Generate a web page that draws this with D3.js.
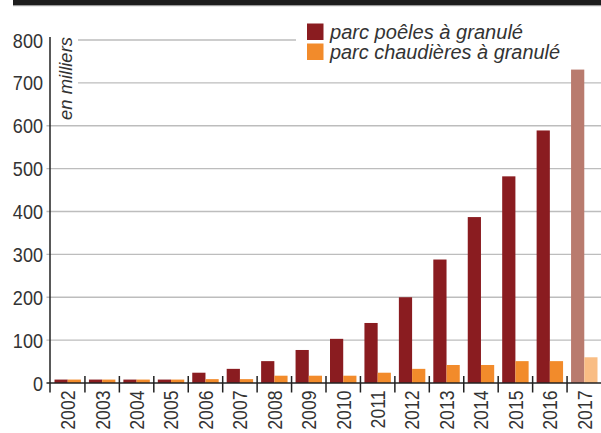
<!DOCTYPE html>
<html><head><meta charset="utf-8">
<script src="https://cdn.jsdelivr.net/npm/d3@7"></script>
<style>
html,body{margin:0;padding:0;background:#fff;}
svg{display:block;}
</style></head>
<body>
<svg id="chart" width="601" height="433"></svg>
<script>
const years = ["2002","2003","2004","2005","2006","2007","2008","2009","2010","2011","2012","2013","2014","2015","2016","2017"];
const poeles = [8, 8, 8, 8, 24, 33, 51, 77, 103, 140, 200, 288, 387, 482, 589, 731];
const chaudieres = [8, 8, 8, 8, 9, 9, 17, 17, 17, 24, 33, 42, 42, 51, 51, 60];
const yTicks = [0, 100, 200, 300, 400, 500, 600, 700, 800];
const seriesNames = ["parc poêles à granulé", "parc chaudières à granulé"];
const unitLabel = "en milliers";

const colors = {p:"#8a1c20", c:"#f28b2b", p17:"#b97b6e", c17:"#f9bd84"};
const svg = d3.select("#chart");
const x = d3.scaleBand().domain(years).range([50.5, 601.5]).padding(0);
const xi = d3.scaleBand().domain(["p","c"]).range([4, x.bandwidth()-4]).padding(0);
const y = d3.scaleLinear().domain([0, 800]).range([383, 40]);
const numFont = "'Liberation Sans Narrow','Arial Narrow','Liberation Sans',sans-serif";
const itFont = "'Liberation Sans',Arial,sans-serif";
const squeeze = 0.86;

// top dark band
svg.append("rect").attr("x",13).attr("y",0).attr("width",588).attr("height",5).attr("fill","#1d1d1d");
svg.append("rect").attr("x",13).attr("y",5).attr("width",588).attr("height",1.2).attr("fill","#9a9a9a");

// gridlines
const grid = svg.append("g");
yTicks.forEach(t => {
  if (t === 0) return;
  let x1 = 46.5, x2 = 601;
  if (t === 700) { x1 = 78; }
  if (t === 800) { x1 = 78; x2 = 296; }
  grid.append("line").attr("x1",x1).attr("x2",x2).attr("y1",y(t)).attr("y2",y(t))
    .attr("stroke","#bdbdbd").attr("stroke-width",1.4);
});

// bars
const g = svg.append("g");
years.forEach((yr,i) => {
  const last = i === years.length-1;
  g.append("rect").attr("x", x(yr)+xi("p")).attr("width", xi.bandwidth())
    .attr("y", y(poeles[i])).attr("height", y(0)-y(poeles[i]))
    .attr("fill", last ? colors.p17 : colors.p);
  g.append("rect").attr("x", x(yr)+xi("c")).attr("width", xi.bandwidth())
    .attr("y", y(chaudieres[i])).attr("height", y(0)-y(chaudieres[i]))
    .attr("fill", last ? colors.c17 : colors.c);
});

// baseline and y axis
svg.append("line").attr("x1",46.5).attr("x2",601).attr("y1",y(0)).attr("y2",y(0)).attr("stroke","#222").attr("stroke-width",1.6);
svg.append("line").attr("x1",50).attr("x2",50).attr("y1",37).attr("y2",392.5).attr("stroke","#222").attr("stroke-width",1.5);
// category separators
years.forEach((yr,i) => {
  if (i === 0) return;
  svg.append("line").attr("x1",x(yr)).attr("x2",x(yr)).attr("y1",376).attr("y2",392.5).attr("stroke","#222").attr("stroke-width",1.5);
});

// y tick labels
svg.append("g").selectAll("text").data(yTicks).join("text")
  .attr("transform",d=>`translate(43,${y(d)}) scale(${squeeze},1)`)
  .attr("dy","0.36em").attr("text-anchor","end")
  .attr("font-family",numFont).attr("font-size",21).attr("fill","#333").text(d=>d);

// x labels
svg.append("g").selectAll("text").data(years).join("text")
  .attr("transform",d=>`translate(${x(d)+x.bandwidth()/2},390.5) rotate(-90) scale(${squeeze},1)`)
  .attr("text-anchor","end").attr("dy","0.36em")
  .attr("font-family",numFont).attr("font-size",20.5).attr("fill","#333").text(d=>d);

// unit label
svg.append("text").attr("transform","translate(71.5,120) rotate(-90)")
  .attr("font-family",itFont).attr("font-style","italic").attr("font-size",19).attr("fill","#333")
  .attr("textLength",83).attr("lengthAdjust","spacingAndGlyphs")
  .text(unitLabel);

// legend
const legColors = [colors.p, colors.c];
const legLen = [193, 230];
seriesNames.forEach((n,i) => {
  svg.append("rect").attr("x",307).attr("y",23.5+i*20).attr("width",16.5).attr("height",16.5).attr("fill",legColors[i]);
  svg.append("text").attr("x",330).attr("y",38.5+i*20).attr("font-family",itFont).attr("font-style","italic")
    .attr("font-size",19.5).attr("fill","#333")
    .attr("textLength",legLen[i]).attr("lengthAdjust","spacingAndGlyphs").text(n);
});
</script>
</body></html>
